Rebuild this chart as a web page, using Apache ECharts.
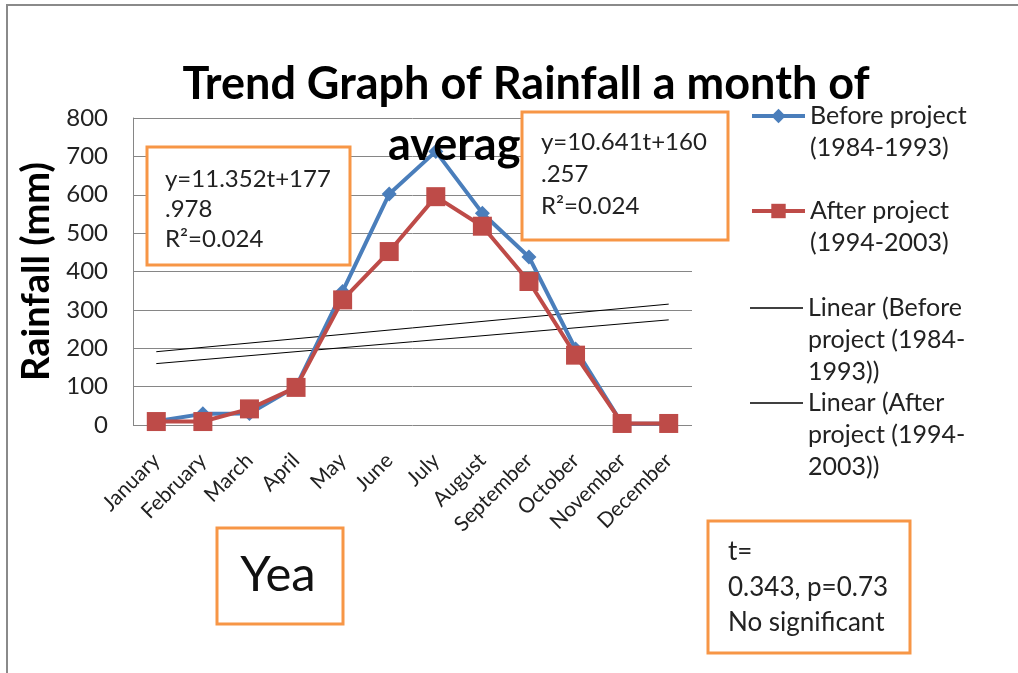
<!DOCTYPE html>
<html>
<head>
<meta charset="utf-8">
<script src="https://cdn.jsdelivr.net/npm/echarts@6/dist/echarts.min.js"></script>
<style>
html, body { margin: 0; padding: 0; background: #fff; }
#main { width: 1018px; height: 673px; }
</style>
</head>
<body>
<div id="main"></div>
<script>
// 月份
var months = ['January', 'February', 'March', 'April', 'May', 'June', 'July',
  'August', 'September', 'October', 'November', 'December'];
// 项目前 / 项目后 月均降雨量 (mm)
var beforeProject = [10, 29, 30, 100, 348, 602, 713, 552, 438, 198, 3, 3];
var afterProject = [9, 9, 42, 98, 326, 452, 595, 518, 374, 182, 4, 4];
// 趋势线两端的值 (January, December)
var trendBefore = [191, 315];
var trendAfter = [160, 274];
var yTicks = [0, 100, 200, 300, 400, 500, 600, 700, 800];

var FONT = 'Lato';
var orange = '#F79646';
var LH = 32; //图例行高

var myChart = echarts.init(document.getElementById('main'));

// 单个图例：前面补空行，让图标对齐第一行文字
function legendItem(name, iconY, lines, isTrend) {
  var blank = [];
  for (var i = 1; i < lines.length; i++) blank.push('');
  var n = blank.length + lines.length;
  var lg = {
    left: 750,
    top: iconY - n * LH / 2,
    orient: 'vertical',
    itemWidth: 53,
    itemHeight: isTrend ? 1.5 : 18,
    padding: 0,
    selectedMode: false,
    data: [name],
    formatter: function () { return blank.concat(lines).join('\n'); },
    textStyle: {
      fontFamily: FONT,
      fontSize: 25,
      color: '#222',
      lineHeight: LH
    }
  };
  if (isTrend) {
    lg.icon = 'rect';
    lg.itemStyle = { color: '#000' };
  } else {
    lg.lineStyle = { width: 4 };
  }
  return lg;
}

// 带橙色边框的文字框
function noteBox(x, y, w, h, text, textOpt) {
  var ts = { text: text, fontFamily: FONT, fill: '#222' };
  for (var k in textOpt.style) ts[k] = textOpt.style[k];
  return {
    type: 'group', x: x, y: y, z: 100,
    children: [
      { type: 'rect', z: 100, shape: { x: 0, y: 0, width: w, height: h },
        style: { fill: '#fff', stroke: orange, lineWidth: 3 } },
      { type: 'text', z: 101, x: textOpt.x, y: textOpt.y, style: ts }
    ]
  };
}

var option = {
  animation: false,
  title: [
    {
      text: 'Trend Graph of Rainfall a month of',
      left: 521,
      top: 57,
      textAlign: 'center',
      textStyle: { fontFamily: FONT, fontWeight: 'bold', fontSize: 45, color: '#000' }
    },
    {
      text: 'average',
      left: 383,
      top: 118,
      z: 5,
      textStyle: { fontFamily: FONT, fontWeight: 'bold', fontSize: 45, color: '#000' }
    }
  ],
  legend: [
    legendItem('Before project (1984-1993)', 116, ['Before project', '(1984-1993)'], false),
    legendItem('After project (1994-2003)', 211, ['After project', '(1994-2003)'], false),
    legendItem('Linear (Before project (1984-1993))', 308, ['Linear (Before', 'project (1984-', '1993))'], true),
    legendItem('Linear (After project (1994-2003))', 403, ['Linear (After', 'project (1994-', '2003))'], true)
  ],
  grid: { left: 133, right: 326, top: 118, bottom: 248, containLabel: false },
  xAxis: {
    type: 'category',
    data: months,
    boundaryGap: true,
    axisLine: { show: false },
    axisTick: { show: false },
    axisLabel: {
      rotate: 45,
      margin: 32,
      interval: 0,
      fontFamily: FONT,
      fontSize: 21,
      color: '#222'
    }
  },
  yAxis: {
    type: 'value',
    min: 0,
    max: 800,
    interval: 100,
    name: 'Rainfall (mm)',
    nameLocation: 'middle',
    nameGap: 68,
    nameTextStyle: { fontFamily: FONT, fontWeight: 'bold', fontSize: 38, color: '#000' },
    axisLine: { show: true, lineStyle: { color: '#868686', width: 1 } },
    axisTick: { show: false },
    axisLabel: {
      margin: 25,
      fontFamily: FONT,
      fontSize: 24,
      color: '#222',
      formatter: function (v) { return yTicks.indexOf(v) >= 0 ? String(v) : ''; }
    },
    splitLine: { show: true, lineStyle: { color: '#868686', width: 1 } }
  },
  series: [
    {
      name: 'Before project (1984-1993)',
      type: 'line',
      data: beforeProject,
      symbol: 'diamond',
      symbolSize: 15,
      lineStyle: { color: '#4A7EBB', width: 4 },
      itemStyle: { color: '#4A7EBB' },
      z: 3
    },
    {
      name: 'After project (1994-2003)',
      type: 'line',
      data: afterProject,
      symbol: 'rect',
      symbolSize: 19,
      lineStyle: { color: '#BE4B48', width: 4 },
      itemStyle: { color: '#BE4B48' },
      z: 4
    },
    {
      name: 'Linear (Before project (1984-1993))',
      type: 'line',
      data: [[months[0], trendBefore[0]], [months[11], trendBefore[1]]],
      symbol: 'none',
      lineStyle: { color: '#000', width: 1 },
      itemStyle: { color: '#000' },
      z: 2
    },
    {
      name: 'Linear (After project (1994-2003))',
      type: 'line',
      data: [[months[0], trendAfter[0]], [months[11], trendAfter[1]]],
      symbol: 'none',
      lineStyle: { color: '#000', width: 1 },
      itemStyle: { color: '#000' },
      z: 2
    }
  ],
  graphic: [
    // 外框（上、左）
    {
      type: 'polyline',
      shape: { points: [[7, 673], [7, 5], [1018, 5]] },
      style: { stroke: '#8a8a8a', lineWidth: 2, fill: null },
      z: 1
    },
    noteBox(147, 147, 203, 118, 'y=11.352t+177\n.978\nR\u00b2=0.024',
      { x: 18, y: 17, style: { fontSize: 24, lineHeight: 30 } }),
    noteBox(522, 112, 206, 128, 'y=10.641t+160\n.257\nR\u00b2=0.024',
      { x: 19, y: 14, style: { fontSize: 24, lineHeight: 32 } }),
    noteBox(217, 528, 126, 96, 'Yea',
      { x: 61, y: 47, style: { fontSize: 49, fill: '#111', align: 'center', verticalAlign: 'middle' } }),
    noteBox(708, 521, 202, 132, 't=\n0.343, p=0.73\nNo significant',
      { x: 20, y: 13, style: { fontSize: 26, lineHeight: 35.5 } })
  ]
};

myChart.setOption(option);

window.onresize = function () {
  myChart.resize();
};
</script>
</body>
</html>
